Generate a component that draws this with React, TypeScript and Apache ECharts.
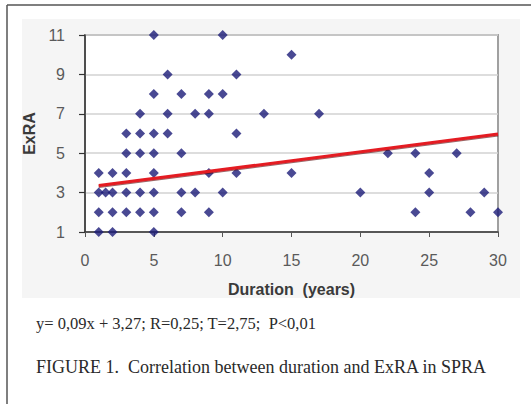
import React, { useEffect, useRef } from "react";
import * as echarts from "echarts";

// Duration (years) and ExRA values of each patient
const durations = [
  1, 2, 5,
  1, 2, 3, 4, 5, 7, 9, 24, 28, 30,
  1, 1.5, 2, 3, 4, 5, 7, 8, 10, 20, 25, 29,
  1, 2, 3, 5, 9, 11, 15, 25,
  3, 4, 5, 7, 22, 24, 27,
  3, 4, 5, 6, 11,
  4, 6, 8, 9, 13, 17,
  5, 7, 9, 10,
  6, 11,
  15,
  5, 10,
];
const exra = [
  1, 1, 1,
  2, 2, 2, 2, 2, 2, 2, 2, 2, 2,
  3, 3, 3, 3, 3, 3, 3, 3, 3, 3, 3, 3,
  4, 4, 4, 4, 4, 4, 4, 4,
  5, 5, 5, 5, 5, 5, 5,
  6, 6, 6, 6, 6,
  7, 7, 7, 7, 7, 7,
  8, 8, 8, 8,
  9, 9,
  10,
  11, 11,
];
// regression line y = 0.09x + 3.27 at its two ends
const trendX = [1, 30];
const trendY = [3.36, 5.97];
const yTicks = [1, 3, 5, 7, 9, 11];
const xTicks = [0, 5, 10, 15, 20, 25, 30];
const xName = "Duration  (years)";
const yName = "ExRA";
const equationText = "y= 0,09x + 3,27; R=0,25; T=2,75;  P<0,01";
const figureText = "FIGURE 1.  Correlation between duration and ExRA in SPRA";

export default function App() {
  const ref = useRef<HTMLDivElement>(null);
  useEffect(() => {
    if (!ref.current) return;
    const chart = echarts.init(ref.current, undefined, { renderer: "svg" });
    const points = durations.map((d, i) => [d, exra[i]]);
    const trend = trendX.map((x, i) => [x, trendY[i]]);
    chart.setOption({
      animation: false,
      backgroundColor: "#ffffff",
      textStyle: { fontFamily: "Liberation Sans" },
      grid: {
        left: 85,
        right: 33,
        top: 35,
        bottom: 172,
        show: true,
        backgroundColor: "#ffffff",
        borderColor: "#a0a0a0",
        borderWidth: 2,
      },
      xAxis: {
        type: "value",
        min: 0,
        max: 30,
        interval: 5,
        name: xName,
        nameLocation: "middle",
        nameGap: 49,
        nameTextStyle: { fontSize: 16, fontWeight: "bold", color: "#3a3a3a" },
        axisLine: { show: true, onZero: false, lineStyle: { color: "#333", width: 1.5 } },
        axisTick: { show: true, length: 5, lineStyle: { color: "#555", width: 1 } },
        axisLabel: {
          margin: 20,
          fontSize: 16,
          color: "#5a5a5a",
          customValues: xTicks,
        },
        splitLine: { show: false },
      },
      yAxis: {
        type: "value",
        min: 1,
        max: 11,
        name: yName,
        nameLocation: "middle",
        nameGap: 47,
        nameRotate: 90,
        nameTextStyle: { fontSize: 16, fontWeight: "bold", color: "#3a3a3a" },
        axisLine: { show: true, onZero: false, lineStyle: { color: "#333", width: 1.5 } },
        axisTick: { show: true, length: 6, lineStyle: { color: "#333", width: 1.2 }, customValues: yTicks },
        axisLabel: {
          margin: 20,
          fontSize: 16,
          color: "#5a5a5a",
          customValues: yTicks,
        },
        splitLine: { show: true, lineStyle: { color: "#d2d2d2", width: 1.5 } },
      },
      graphic: [
        {
          type: "rect",
          z: -10,
          silent: true,
          shape: { x: 22, y: 19, width: 498, height: 279 },
          style: { fill: "#f5f5f5" },
        },
        {
          type: "line",
          silent: true,
          shape: { x1: 7, y1: 5, x2: 531, y2: 5 },
          style: { stroke: "#555", lineWidth: 1.5 },
        },
        {
          type: "line",
          silent: true,
          shape: { x1: 7, y1: 5, x2: 7, y2: 404 },
          style: { stroke: "#555", lineWidth: 1.5 },
        },
        {
          type: "text",
          left: 36,
          top: 315,
          style: {
            text: equationText,
            fontFamily: "Liberation Serif",
            fontSize: 16.5,
            fill: "#2a2a2a",
          },
        },
        {
          type: "text",
          left: 36,
          top: 358,
          style: {
            text: figureText,
            fontFamily: "Liberation Serif",
            fontSize: 18,
            fill: "#2a2a2a",
          },
        },
      ],
      series: [
        {
          type: "scatter",
          data: points,
          symbol: "diamond",
          symbolSize: [10, 10],
          itemStyle: { color: "#1c1c78" },
          z: 3,
        },
        {
          type: "line",
          data: trend,
          symbol: "none",
          lineStyle: {
            color: "#e41a22",
            width: 3,
            shadowColor: "rgba(80,0,0,0.6)",
            shadowBlur: 1,
            shadowOffsetY: 1,
          },
          z: 4,
        },
      ],
    });
    return () => chart.dispose();
  }, []);
  return (
    <div
      ref={ref}
      style={{ position: "fixed", left: 0, top: 0, width: 531, height: 404 }}
    />
  );
}
